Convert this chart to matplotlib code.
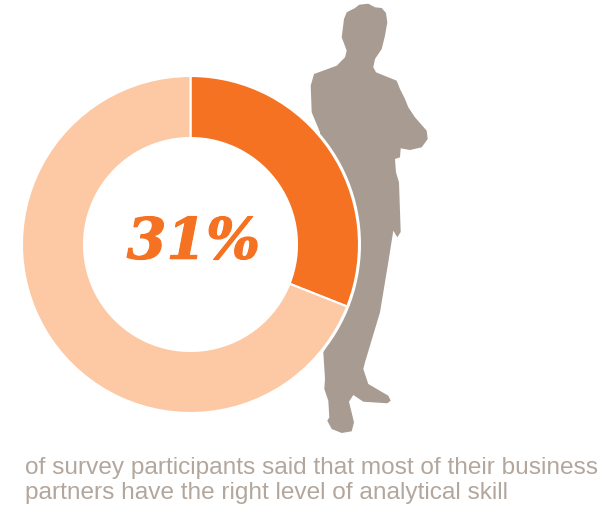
import matplotlib
matplotlib.use("Agg")
import matplotlib.pyplot as plt
import matplotlib.patheffects as pe
from matplotlib.patches import Polygon, Circle

W, H = 609, 506
ORANGE = "#f57222"
PEACH = "#fdc8a4"
TAUPE = "#a89c92"
CAPTION = "#b3a79d"

share_label = "31%"
share_values = [31, 69]
caption_lines = [
    "of survey participants said that most of their business",
    "partners have the right level of analytical skill",
]

# Outline of the standing figure, in pixels from the top-left corner
figure_outline = [
    (359.3, 5.7), (368.3, 4.7), (375, 8.3), (381.7, 9), (386, 14), (387.3, 23.3),
    (385, 36.7), (381.7, 50), (375, 60), (373.3, 68.3), (376, 73.3), (396.7, 81.7),
    (400, 90), (405, 100), (408.3, 108.3), (415, 118.3), (426.7, 131.7), (427.7, 140),
    (421.7, 148.3), (410, 151), (400.7, 149.3), (400, 158.3), (395, 160), (396, 173.3),
    (399, 183.3), (400.7, 233), (397.3, 238.3), (393.3, 231.7), (388.3, 263.3),
    (380, 313.3), (365, 363.3), (363.3, 370), (368.3, 385), (388.3, 396.7),
    (390.7, 401.7), (387.3, 404.3), (363.3, 402.7), (353.3, 396), (349, 402.7),
    (354, 423.3), (351.7, 432.3), (341.7, 434), (331.7, 430), (327.3, 421.7),
    (329.3, 418.3), (328.3, 401.7), (324.3, 390), (325, 380), (323.3, 353.3),
    (328.3, 343.3), (300, 300), (320, 133.3), (311.7, 113.3), (310.7, 86.7),
    (314, 75), (336.7, 66.7), (345, 58.3), (346.7, 51.7), (341.7, 38.3), (344, 20),
    (346.7, 13.3), (355, 9),
]

fig = plt.figure(figsize=(W / 100, H / 100), dpi=100)
ax = fig.add_axes([0, 0, 1, 1])

ax.add_patch(Polygon([(x, H - y) for x, y in figure_outline], closed=True,
                     facecolor=TAUPE, edgecolor="none", zorder=1))

# White halo separating the ring from the figure behind it
ax.add_patch(Circle((190.5, H - 245.5), 170.5, facecolor="white", edgecolor="none", zorder=2))

wedges, _ = ax.pie(
    share_values, colors=[ORANGE, PEACH], startangle=90, counterclock=False,
    center=(190.5, H - 245.5), radius=168.5, frame=True,
    wedgeprops={"width": 62, "edgecolor": "white", "linewidth": 1.5},
)
for w in wedges:
    w.set_zorder(3)

ax.text(193.5, H - 244, share_label, color=ORANGE, fontsize=41, family="DejaVu Serif",
        fontweight="bold", fontstyle="italic", ha="center", va="center", zorder=4,
        path_effects=[pe.withStroke(linewidth=0.8, foreground=ORANGE)])

for line, y in zip(caption_lines, [468, 493.5]):
    ax.text(25, H - y, line, color=CAPTION, fontsize=17.6, family="Liberation Sans",
            ha="left", va="center", zorder=4)

ax.set_xlim(0, W)
ax.set_ylim(0, H)
ax.set_aspect("auto")
ax.axis("off")
fig.savefig("out.png", dpi=100)
